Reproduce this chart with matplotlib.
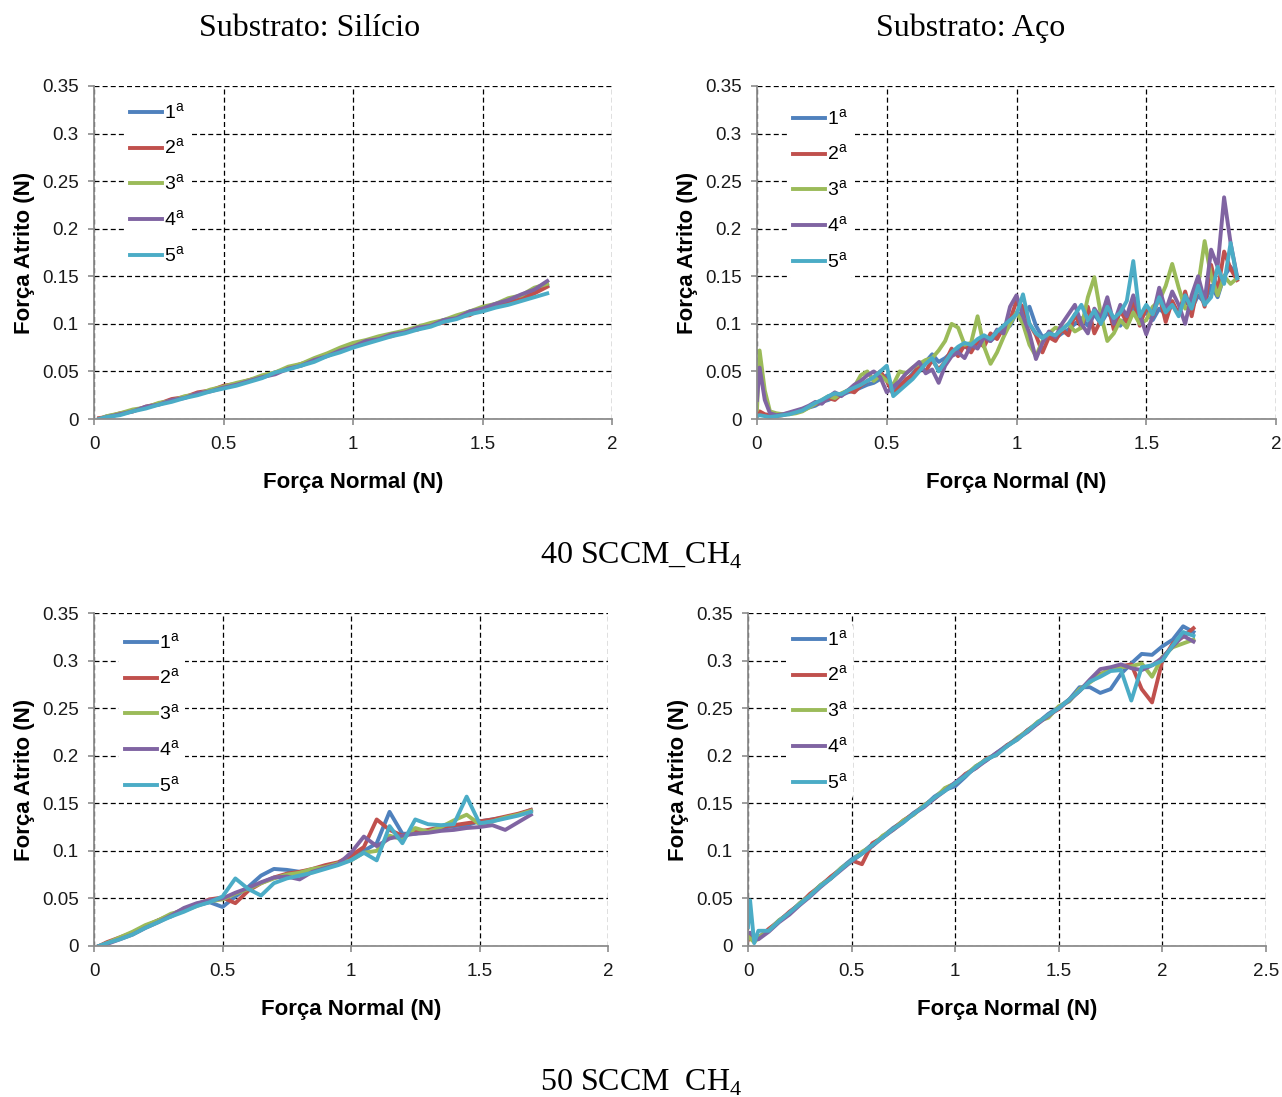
import matplotlib
matplotlib.use("Agg")
import matplotlib.pyplot as plt
from matplotlib.ticker import MultipleLocator, FormatStrFormatter

plt.rcParams['font.family'] = ['Liberation Sans', 'DejaVu Sans']
plt.rcParams['mathtext.fontset'] = 'custom'
plt.rcParams['mathtext.rm'] = 'Liberation Sans'

# ---- 40 SCCM, silicon substrate ----
si40_x = [0.02, 0.05, 0.10, 0.15, 0.20, 0.25, 0.30, 0.35, 0.40, 0.45, 0.50, 0.55,
          0.60, 0.65, 0.70, 0.75, 0.80, 0.85, 0.90, 0.95, 1.00, 1.05, 1.10, 1.15,
          1.20, 1.25, 1.30, 1.35, 1.40, 1.45, 1.50, 1.55, 1.60, 1.65, 1.70, 1.75]
si40_1 = [0.000, 0.003, 0.005, 0.009, 0.012, 0.016, 0.019, 0.023, 0.026, 0.030, 0.033, 0.037,
          0.040, 0.045, 0.048, 0.054, 0.057, 0.063, 0.067, 0.073, 0.077, 0.082, 0.085, 0.089,
          0.092, 0.096, 0.099, 0.104, 0.107, 0.113, 0.116, 0.121, 0.124, 0.130, 0.134, 0.140]
si40_2 = [0.001, 0.002, 0.006, 0.008, 0.013, 0.016, 0.021, 0.023, 0.028, 0.030, 0.035, 0.037,
          0.041, 0.044, 0.049, 0.053, 0.058, 0.062, 0.068, 0.071, 0.078, 0.081, 0.086, 0.087,
          0.093, 0.094, 0.100, 0.101, 0.108, 0.109, 0.117, 0.118, 0.122, 0.126, 0.132, 0.139]
si40_3 = [0.000, 0.003, 0.006, 0.010, 0.012, 0.017, 0.019, 0.024, 0.026, 0.031, 0.034, 0.038,
          0.041, 0.046, 0.049, 0.055, 0.058, 0.064, 0.069, 0.075, 0.080, 0.083, 0.087, 0.090,
          0.093, 0.097, 0.101, 0.104, 0.109, 0.113, 0.118, 0.121, 0.127, 0.130, 0.138, 0.142]
si40_4 = [0.000, 0.002, 0.005, 0.008, 0.013, 0.015, 0.020, 0.022, 0.027, 0.029, 0.033, 0.036,
          0.040, 0.044, 0.047, 0.053, 0.056, 0.062, 0.066, 0.072, 0.076, 0.082, 0.084, 0.089,
          0.091, 0.096, 0.098, 0.104, 0.106, 0.113, 0.116, 0.121, 0.125, 0.131, 0.136, 0.145]
si40_5 = [0.000, 0.002, 0.004, 0.008, 0.011, 0.015, 0.018, 0.022, 0.025, 0.029, 0.032, 0.035,
          0.039, 0.043, 0.049, 0.052, 0.056, 0.060, 0.066, 0.070, 0.075, 0.079, 0.083, 0.087,
          0.090, 0.094, 0.097, 0.102, 0.105, 0.110, 0.113, 0.117, 0.120, 0.124, 0.128, 0.132]

# ---- 40 SCCM, steel substrate ----
ac40_x = [0.00, 0.01, 0.03, 0.05, 0.075, 0.10, 0.125, 0.15, 0.175, 0.20,
          0.225, 0.25, 0.275, 0.30, 0.325, 0.35, 0.375, 0.40, 0.425, 0.45,
          0.475, 0.50, 0.525, 0.55, 0.575, 0.60, 0.625, 0.65, 0.675, 0.70,
          0.725, 0.75, 0.775, 0.80, 0.825, 0.85, 0.875, 0.90, 0.925, 0.95,
          0.975, 1.00, 1.025, 1.05, 1.075, 1.10, 1.125, 1.15, 1.175, 1.20,
          1.225, 1.25, 1.275, 1.30, 1.325, 1.35, 1.375, 1.40, 1.425, 1.45,
          1.475, 1.50, 1.525, 1.55, 1.575, 1.60, 1.625, 1.65, 1.675, 1.70,
          1.725, 1.75, 1.775, 1.80, 1.825, 1.85]
ac40_1 = [0.004, 0.006, 0.004, 0.003, 0.004, 0.005, 0.006, 0.008, 0.009, 0.012,
          0.014, 0.018, 0.020, 0.023, 0.025, 0.028, 0.030, 0.033, 0.036, 0.038,
          0.042, 0.046, 0.032, 0.036, 0.040, 0.048, 0.055, 0.060, 0.068, 0.060,
          0.064, 0.070, 0.072, 0.076, 0.074, 0.080, 0.084, 0.082, 0.088, 0.094,
          0.098, 0.112, 0.108, 0.118, 0.098, 0.086, 0.090, 0.085, 0.090, 0.094,
          0.100, 0.106, 0.098, 0.110, 0.100, 0.112, 0.104, 0.098, 0.108, 0.118,
          0.106, 0.112, 0.104, 0.116, 0.110, 0.120, 0.112, 0.124, 0.116, 0.130,
          0.122, 0.140, 0.128, 0.150, 0.160, 0.148]
ac40_2 = [0.003, 0.008, 0.005, 0.004, 0.003, 0.004, 0.006, 0.007, 0.010, 0.013,
          0.016, 0.017, 0.022, 0.020, 0.026, 0.030, 0.028, 0.035, 0.040, 0.044,
          0.050, 0.040, 0.026, 0.034, 0.042, 0.046, 0.056, 0.050, 0.062, 0.052,
          0.060, 0.074, 0.066, 0.078, 0.070, 0.082, 0.076, 0.090, 0.084, 0.096,
          0.104, 0.124, 0.118, 0.100, 0.088, 0.070, 0.086, 0.082, 0.094, 0.088,
          0.110, 0.096, 0.118, 0.090, 0.104, 0.122, 0.094, 0.114, 0.102, 0.126,
          0.098, 0.118, 0.108, 0.130, 0.102, 0.124, 0.110, 0.134, 0.108, 0.142,
          0.118, 0.162, 0.134, 0.176, 0.158, 0.146]
ac40_3 = [0.010, 0.072, 0.030, 0.008, 0.006, 0.005, 0.005, 0.006, 0.008, 0.012,
          0.016, 0.020, 0.024, 0.022, 0.027, 0.030, 0.034, 0.046, 0.050, 0.040,
          0.046, 0.040, 0.036, 0.050, 0.048, 0.054, 0.058, 0.062, 0.064, 0.072,
          0.082, 0.100, 0.096, 0.078, 0.080, 0.108, 0.076, 0.058, 0.070, 0.086,
          0.100, 0.112, 0.100, 0.078, 0.066, 0.082, 0.090, 0.096, 0.094, 0.100,
          0.092, 0.096, 0.128, 0.149, 0.110, 0.082, 0.090, 0.104, 0.096, 0.112,
          0.100, 0.104, 0.118, 0.124, 0.140, 0.163, 0.138, 0.116, 0.120, 0.140,
          0.187, 0.150, 0.130, 0.150, 0.142, 0.148]
ac40_4 = [0.020, 0.054, 0.020, 0.006, 0.004, 0.005, 0.007, 0.009, 0.011, 0.014,
          0.018, 0.016, 0.023, 0.028, 0.024, 0.030, 0.036, 0.040, 0.046, 0.050,
          0.044, 0.028, 0.034, 0.040, 0.048, 0.054, 0.060, 0.048, 0.052, 0.038,
          0.056, 0.066, 0.070, 0.064, 0.078, 0.074, 0.086, 0.082, 0.094, 0.090,
          0.118, 0.130, 0.108, 0.090, 0.063, 0.080, 0.092, 0.086, 0.100, 0.110,
          0.120, 0.100, 0.090, 0.116, 0.106, 0.128, 0.100, 0.120, 0.108, 0.130,
          0.110, 0.089, 0.108, 0.138, 0.114, 0.134, 0.120, 0.100, 0.130, 0.150,
          0.124, 0.178, 0.160, 0.233, 0.185, 0.150]
ac40_5 = [0.003, 0.004, 0.003, 0.002, 0.003, 0.004, 0.005, 0.007, 0.009, 0.013,
          0.017, 0.020, 0.024, 0.027, 0.026, 0.030, 0.033, 0.036, 0.040, 0.044,
          0.050, 0.056, 0.024, 0.030, 0.036, 0.042, 0.050, 0.058, 0.064, 0.050,
          0.060, 0.070, 0.076, 0.080, 0.078, 0.084, 0.088, 0.084, 0.092, 0.098,
          0.104, 0.110, 0.131, 0.100, 0.090, 0.085, 0.090, 0.088, 0.094, 0.100,
          0.110, 0.120, 0.104, 0.114, 0.100, 0.118, 0.106, 0.112, 0.124, 0.166,
          0.108, 0.120, 0.110, 0.128, 0.112, 0.120, 0.108, 0.130, 0.116, 0.140,
          0.120, 0.128, 0.160, 0.142, 0.185, 0.148]

# ---- 50 SCCM, silicon substrate ----
si50_x = [0.02, 0.05, 0.10, 0.15, 0.20, 0.25, 0.30, 0.35, 0.40, 0.45, 0.50, 0.55,
          0.60, 0.65, 0.70, 0.75, 0.80, 0.85, 0.90, 0.95, 1.00, 1.05, 1.10, 1.15,
          1.20, 1.25, 1.30, 1.35, 1.40, 1.45, 1.50, 1.55, 1.60, 1.65, 1.70]
si50_1 = [0.000, 0.003, 0.008, 0.014, 0.020, 0.027, 0.031, 0.038, 0.043, 0.046, 0.041, 0.052,
          0.062, 0.074, 0.081, 0.080, 0.078, 0.079, 0.082, 0.086, 0.093, 0.100, 0.108, 0.141,
          0.118, 0.118, 0.121, 0.124, 0.126, 0.127, 0.131, 0.133, 0.135, 0.138, 0.143]
si50_2 = [0.000, 0.004, 0.009, 0.014, 0.021, 0.027, 0.033, 0.039, 0.044, 0.049, 0.051, 0.045,
          0.058, 0.066, 0.072, 0.076, 0.078, 0.081, 0.085, 0.088, 0.095, 0.104, 0.133, 0.122,
          0.116, 0.120, 0.122, 0.125, 0.127, 0.129, 0.131, 0.133, 0.136, 0.139, 0.143]
si50_3 = [0.000, 0.003, 0.009, 0.015, 0.022, 0.027, 0.034, 0.037, 0.042, 0.047, 0.049, 0.055,
          0.060, 0.066, 0.071, 0.075, 0.077, 0.081, 0.083, 0.087, 0.090, 0.098, 0.100, 0.116,
          0.112, 0.124, 0.120, 0.125, 0.132, 0.138, 0.128, 0.131, 0.135, 0.138, 0.142]
si50_4 = [0.000, 0.002, 0.007, 0.012, 0.019, 0.025, 0.032, 0.040, 0.045, 0.048, 0.050, 0.056,
          0.061, 0.067, 0.072, 0.073, 0.070, 0.078, 0.082, 0.086, 0.098, 0.115, 0.105, 0.113,
          0.116, 0.118, 0.119, 0.121, 0.122, 0.124, 0.125, 0.127, 0.122, 0.130, 0.138]
si50_5 = [0.000, 0.003, 0.007, 0.012, 0.019, 0.025, 0.031, 0.036, 0.042, 0.046, 0.052, 0.071,
          0.060, 0.053, 0.066, 0.071, 0.074, 0.077, 0.081, 0.085, 0.090, 0.098, 0.090, 0.126,
          0.108, 0.133, 0.128, 0.127, 0.128, 0.157, 0.129, 0.131, 0.134, 0.137, 0.141]

# ---- 50 SCCM, steel substrate ----
ac50_x = [0.00, 0.01, 0.03, 0.05, 0.10, 0.15, 0.20, 0.25, 0.30, 0.35,
          0.40, 0.45, 0.50, 0.55, 0.60, 0.65, 0.70, 0.75, 0.80, 0.85,
          0.90, 0.95, 1.00, 1.05, 1.10, 1.15, 1.20, 1.25, 1.30, 1.35,
          1.40, 1.45, 1.50, 1.55, 1.60, 1.65, 1.70, 1.75, 1.80, 1.85,
          1.90, 1.95, 2.00, 2.05, 2.10, 2.15]
ac50_1 = [0.008, 0.012, 0.006, 0.009, 0.017, 0.027, 0.035, 0.045, 0.054, 0.064,
          0.072, 0.082, 0.091, 0.098, 0.107, 0.115, 0.124, 0.131, 0.140, 0.147,
          0.157, 0.164, 0.168, 0.178, 0.189, 0.195, 0.203, 0.211, 0.218, 0.227,
          0.235, 0.244, 0.251, 0.259, 0.272, 0.272, 0.266, 0.270, 0.286, 0.297,
          0.307, 0.306, 0.315, 0.322, 0.336, 0.330]
ac50_2 = [0.006, 0.010, 0.005, 0.008, 0.018, 0.026, 0.036, 0.044, 0.055, 0.063,
          0.073, 0.081, 0.090, 0.086, 0.108, 0.114, 0.123, 0.132, 0.139, 0.148,
          0.155, 0.165, 0.171, 0.181, 0.187, 0.197, 0.201, 0.211, 0.217, 0.227,
          0.234, 0.243, 0.249, 0.259, 0.268, 0.279, 0.286, 0.290, 0.294, 0.296,
          0.270, 0.256, 0.300, 0.318, 0.325, 0.334]
ac50_3 = [0.010, 0.008, 0.004, 0.009, 0.016, 0.027, 0.034, 0.045, 0.053, 0.064,
          0.071, 0.082, 0.089, 0.099, 0.105, 0.116, 0.122, 0.132, 0.138, 0.148,
          0.155, 0.166, 0.171, 0.180, 0.189, 0.196, 0.202, 0.210, 0.219, 0.226,
          0.236, 0.240, 0.252, 0.257, 0.270, 0.277, 0.285, 0.292, 0.293, 0.294,
          0.297, 0.283, 0.304, 0.314, 0.318, 0.322]
ac50_4 = [0.013, 0.014, 0.010, 0.007, 0.015, 0.025, 0.033, 0.043, 0.052, 0.062,
          0.071, 0.080, 0.089, 0.097, 0.105, 0.114, 0.122, 0.130, 0.139, 0.146,
          0.155, 0.163, 0.172, 0.180, 0.187, 0.195, 0.203, 0.210, 0.218, 0.225,
          0.234, 0.242, 0.250, 0.258, 0.268, 0.280, 0.291, 0.293, 0.296, 0.292,
          0.290, 0.295, 0.303, 0.315, 0.326, 0.320]
ac50_5 = [0.020, 0.048, 0.003, 0.016, 0.016, 0.026, 0.035, 0.044, 0.053, 0.063,
          0.071, 0.081, 0.090, 0.097, 0.106, 0.114, 0.123, 0.130, 0.139, 0.147,
          0.156, 0.163, 0.171, 0.179, 0.188, 0.196, 0.201, 0.210, 0.217, 0.226,
          0.235, 0.243, 0.250, 0.259, 0.268, 0.278, 0.283, 0.289, 0.290, 0.258,
          0.293, 0.295, 0.300, 0.316, 0.330, 0.326]

run_labels = ['1$^\\mathregular{a}$', '2$^\\mathregular{a}$', '3$^\\mathregular{a}$',
              '4$^\\mathregular{a}$', '5$^\\mathregular{a}$']
run_colors = ['#4F81BD', '#C0504D', '#9BBB59', '#8064A2', '#4BACC6']

W, H = 1282, 1097
fig = plt.figure(figsize=(W / 100, H / 100), dpi=100)


def draw_panel(box, x, series, xmax, leg_xy):
    # box = (left, right, top, bottom) in figure pixels, leg_xy = legend top-left in pixels
    left, right, top, bottom = box
    ax = fig.add_axes([left / W, 1 - bottom / H, (right - left) / W, (bottom - top) / H])
    for y, c, lab in zip(series, run_colors, run_labels):
        ax.plot(x, y, color=c, lw=2.8, label=lab, solid_joinstyle='round')
    ax.set_xlim(0, xmax)
    ax.set_ylim(0, 0.35)
    ax.xaxis.set_major_locator(MultipleLocator(0.5))
    ax.yaxis.set_major_locator(MultipleLocator(0.05))
    ax.xaxis.set_major_formatter(FormatStrFormatter('%g'))
    ax.yaxis.set_major_formatter(FormatStrFormatter('%g'))
    ax.set_axisbelow(True)
    ax.grid(True, color='black', lw=0.9, linestyle=(0, (4, 2.5)))
    for s in ['top', 'right']:
        ax.spines[s].set_visible(False)
    for s in ['left', 'bottom']:
        ax.spines[s].set_color('#8c8c8c')
        ax.spines[s].set_linewidth(1.3)
    ax.tick_params(axis='both', direction='out', length=4, width=1.2, color='#8c8c8c',
                   labelsize=13.5, labelcolor='#1a1a1a')
    ax.tick_params(axis='y', pad=7)
    ax.tick_params(axis='x', pad=8)
    ax.set_xlabel('Força Normal (N)', fontsize=16, fontweight='bold', labelpad=14)
    ax.set_ylabel('Força Atrito (N)', fontsize=16, fontweight='bold', labelpad=5)
    lx = (leg_xy[0] - left) / (right - left)
    ly = (bottom - leg_xy[1]) / (bottom - top)
    leg = ax.legend(loc='upper left', bbox_to_anchor=(lx, ly), frameon=True,
                    fontsize=14, handlelength=1.65, handletextpad=0.1,
                    labelspacing=0.78, borderpad=0.3, borderaxespad=0)
    leg.get_frame().set_facecolor('white')
    leg.get_frame().set_edgecolor('none')
    leg.get_frame().set_alpha(1)
    return ax


ax1 = draw_panel((94, 612, 86, 419), si40_x,
                 [si40_1, si40_2, si40_3, si40_4, si40_5], 2, (124, 96))
ax2 = draw_panel((757, 1276, 86, 419), ac40_x,
                 [ac40_1, ac40_2, ac40_3, ac40_4, ac40_5], 2, (787, 102))
ax3 = draw_panel((94, 608, 613, 946), si50_x,
                 [si50_1, si50_2, si50_3, si50_4, si50_5], 2, (119, 626))
ax4 = draw_panel((748, 1266, 613, 946), ac50_x,
                 [ac50_1, ac50_2, ac50_3, ac50_4, ac50_5], 2.5, (787, 623))

serif = dict(family='Liberation Serif', fontsize=23, ha='center', va='center')
fig.text(310 / W, 1 - 28 / H, 'Substrato: Silício', **serif)
fig.text(971 / W, 1 - 28 / H, 'Substrato: Aço', **serif)
fig.text(641 / W, 1 - 556 / H, '40 SCCM_CH$_\\mathregular{4}$', **serif)
fig.text(641 / W, 1 - 1083 / H, '50 SCCM  CH$_\\mathregular{4}$', **serif)

fig.savefig('out.png', dpi=100, facecolor='white')
